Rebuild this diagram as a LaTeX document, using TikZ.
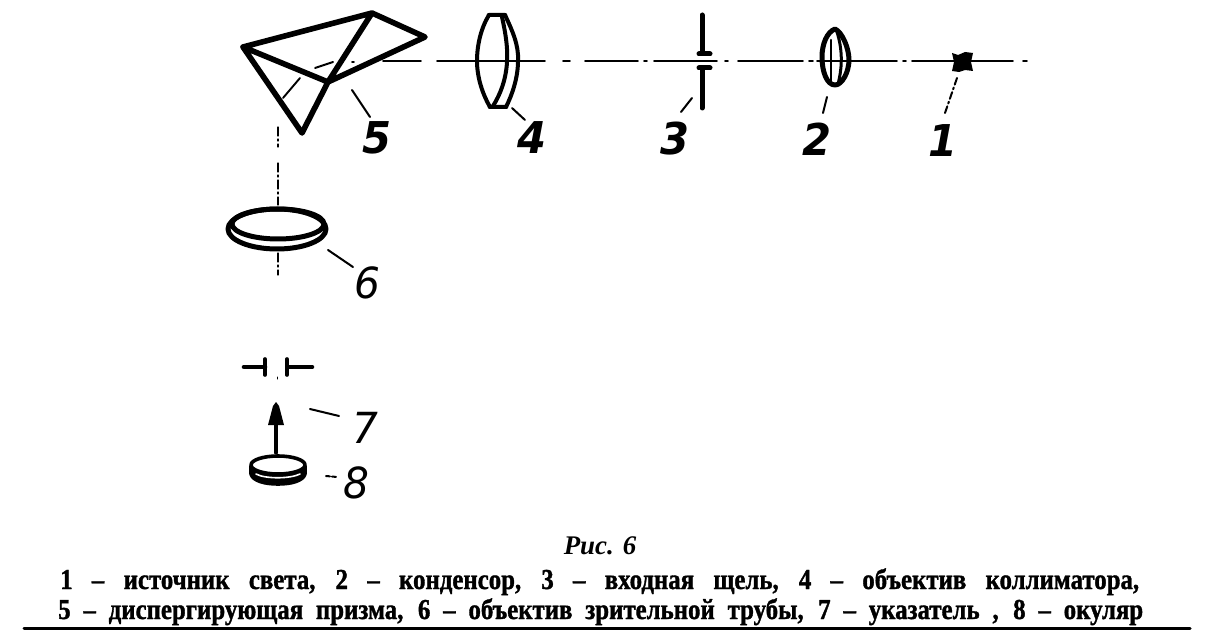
\documentclass[tikz,border=0pt]{standalone}
\usepackage{fontspec}
\setmainfont{Liberation Serif}
\newfontfamily\capfont[FakeStretch=0.86,FakeBold=1.2]{Liberation Serif}
\newfontfamily\digitfont[FakeStretch=0.95]{DejaVu Sans}
\begin{document}
\begin{tikzpicture}[x=1bp,y=-1bp,line join=round,line cap=round,
  thick line/.style={line width=5.6bp},
  med line/.style={line width=4bp},
  leader/.style={line width=2bp},
  axis/.style={line width=1.9bp},
  thin axis/.style={line width=1.2bp,dash pattern=on 9bp off 3bp on 2bp off 3bp},
  digit/.style={font=\digitfont\bfseries\itshape\fontsize{44}{44}\selectfont,inner sep=0pt},
  digitb/.style={font=\digitfont\itshape\fontsize{43}{43}\selectfont,inner sep=0pt},
  caption/.style={font=\capfont\bfseries\fontsize{29}{29}\selectfont,inner sep=0pt,anchor=base west}]
\useasboundingbox (0,0) rectangle (1215,636);
\fill[white] (0,0) rectangle (1215,636);
% optical axes
\draw[axis] (383,61) -- (421,61) (437,61) -- (545,61) (563,61) -- (570,61) (585,61) -- (638,61)
  (644,61) -- (647,61) (654,61) -- (717,61) (725,61) -- (728,61) (738,61) -- (803,61)
  (809,61) -- (813,61) (817,61) -- (897,61) (903,61) -- (906,61) (912,61) -- (1013,61) (1023,61) -- (1027,61);
\draw[axis] (352,62) -- (354,62) (333,62) -- (315,68) (300,78) -- (283,98);
\draw[thin axis] (278,127) -- (278,147) (278,163) -- (278,205) (278,253) -- (278,275);
\draw[line width=1bp] (277,377) -- (277,379);
% prism 5
\coordinate (pA) at (243,47); \coordinate (pB) at (372,13); \coordinate (pC) at (425,37);
\coordinate (pD) at (328,82); \coordinate (pE) at (302,133);
\draw[thick line] (pA) -- (pB) -- (pC) -- (pD) -- (pA) -- (pE) -- (pD) -- (pB);
% lens 4
\draw[med line] (489,15) -- (505,15) .. controls (512,30) and (519,45) .. (518,61)
  .. controls (518,78) and (512,95) .. (506,107) -- (490,107)
  .. controls (483,95) and (477,78) .. (477,61) .. controls (477,45) and (481,28) .. (489,15) -- cycle;
\draw[med line] (502,17) .. controls (506,35) and (508,50) .. (507,62) .. controls (506,80) and (500,95) .. (493,106);
\draw[line width=4.6bp] (489,15) -- (505,15) (490,107) -- (506,107);
% slit 3
\draw[line width=5bp] (702,15) -- (702,53) (702,70) -- (702,108);
\draw[line width=5bp] (699,54) -- (710,54) (699,68) -- (710,68);
% lens 2
\draw[line width=5bp] (835,29) .. controls (842,32) and (849,48) .. (849,60)
  .. controls (849,72) and (842,85) .. (835,85) .. controls (827,85) and (822,72) .. (822,57)
  .. controls (822,44) and (827,32) .. (835,29) -- cycle;
\draw[line width=3bp] (837,32) .. controls (842,48) and (843,65) .. (838,84);
\draw[line width=2.5bp] (831,40) -- (831,84);
% source 1
\fill (952,53) -- (958,55) -- (965,52) -- (973,53) -- (971,62) -- (973,71) -- (965,70) -- (959,72) -- (952,71) -- (954,62) -- cycle;
% lens 6
\draw[line width=5bp] (277,229) ellipse [x radius=49, y radius=20];
\draw[line width=5bp] (278,224) ellipse [x radius=46, y radius=15];
% pointer 7
\draw[line width=4.6bp] (244,367) -- (265,367) (289,367) -- (312,367);
\draw[line width=3.6bp] (265,359) -- (265,375) (287,359) -- (287,375);
\draw[line width=3.2bp] (276,453) -- (276,422);
\fill (276,402) -- (279,406) -- (284,425) -- (268,425) -- (273,406) -- cycle;
% eyepiece 8
\draw[line width=3.6bp,fill=black] (251,466) -- (251,474) .. controls (253,481) and (265,484) .. (278,484)
  .. controls (291,484) and (303,481) .. (305,474) -- (305,466) -- cycle;
\draw[line width=3.6bp,fill=white] (278,465) ellipse [x radius=27, y radius=9];
\draw[line width=1.6bp,white] (256,474) .. controls (265,479) and (290,479) .. (300,474);
% labels
\node[digit] (n5) at (377,138) {5};
\node[digit] (n4) at (532,138) {4};
\node[digit] (n3) at (675,139) {3};
\node[digit] (n2) at (817,139) {2};
\node[digit] (n1) at (943,141) {1};
\node[digitb] (n6) at (367,283) {6};
\node[digitb] (n7) at (365,428) {7};
\node[digitb] (n8) at (356,483) {8};
% leaders
\coordinate (t5) at (352,90); \coordinate (t4) at (512,108); \coordinate (t3) at (692,98);
\coordinate (t2) at (827,97); \coordinate (t1) at (957,78); \coordinate (t6) at (328,250);
\coordinate (t7) at (310,409); \coordinate (t8) at (326,476);
\draw[leader] (t5) -- (370,117);
\draw[leader] (t4) -- (525,120);
\draw[leader] (t3) -- (681,112);
\draw[leader] (t2) -- (823,113);
\draw[leader,dash pattern=on 7bp off 3bp on 2bp off 3bp] (t1) -- (945,113);
\draw[leader] (t6) -- (353,267);
\draw[leader] (t7) -- (339,416);
\draw[leader,dash pattern=on 4bp off 2bp] (t8) -- (337,477);
% caption
\node[font=\bfseries\itshape\fontsize{27}{27}\selectfont,inner sep=0pt,anchor=base] (cap) at (600,554) {Рис. 6};
\node[caption] (l1) at (60,589) {\makebox[1079bp][s]{1 \ – \ источник \ света, \ 2 \ – \ конденсор, \ 3 \ – \ входная \ щель, \ 4 \ – \ объектив \ коллиматора,}};
\node[caption] (l2) at (58,619) {\makebox[1085bp][s]{5 – диспергирующая призма, 6 – объектив зрительной трубы, 7 – указатель , 8 – окуляр}};
\draw[line width=3bp] (24,628) -- (1190,628);
\end{tikzpicture}
\end{document}
